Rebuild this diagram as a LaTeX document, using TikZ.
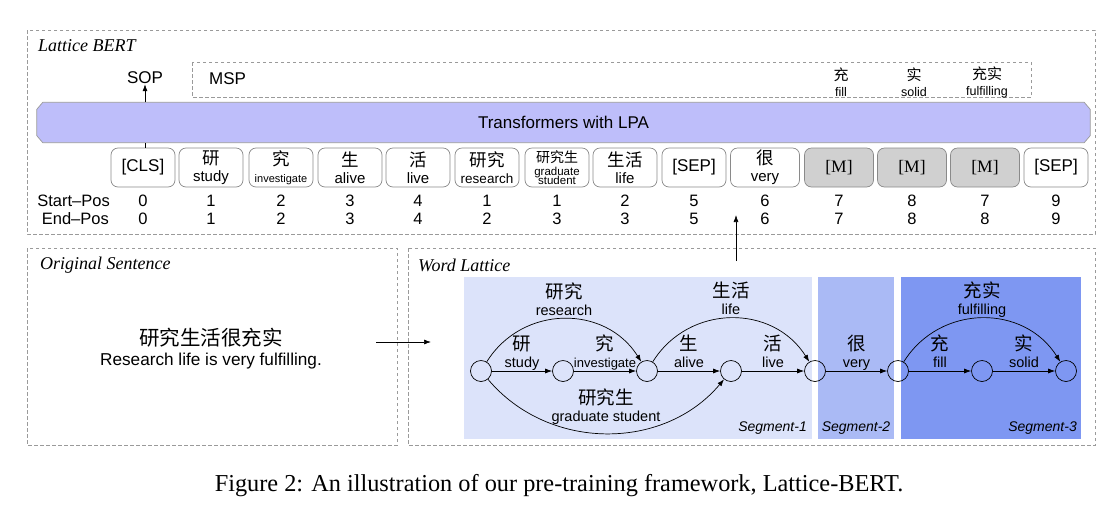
\documentclass[tikz,border=0pt]{standalone}
\usepackage{fontspec}
\setmainfont{Liberation Serif}
\setsansfont{Liberation Sans}
\newfontfamily\cjk{Noto Sans CJK SC}
\usetikzlibrary{arrows.meta}
\definecolor{tfblue}{HTML}{BEBEFA}
\definecolor{segA}{HTML}{DCE3FA}
\definecolor{segB}{HTML}{AABAF5}
\definecolor{segC}{HTML}{7E97F2}
\definecolor{dgray}{HTML}{9A9A9A}
\definecolor{mgray}{HTML}{D0D0D0}
\definecolor{bgray}{HTML}{8A8A8A}
\newcommand{\fs}[1]{\fontsize{#1}{#1}\selectfont}
\newcommand{\nols}{\lineskiplimit=-50pt\relax}
\newcommand{\tw}[3]{{\cjk\fs{17.5}#1}\\{\fs{#3}#2}}
\newcommand{\lw}[2]{{\cjk\fs{18.5}#1}\\{\fs{14.5}#2}}
\newcommand{\mw}[2]{{\cjk\fs{15}#1}\\[-1pt]{\fs{12.5}#2}}
\begin{document}
\begin{tikzpicture}[x=1pt,y=1pt,
  dbox/.style={draw=dgray,line width=0.7pt,dash pattern=on 3.5pt off 2.5pt},
  tok/.style={draw=bgray,line width=0.7pt,rounded corners=7pt,fill=white,
    minimum height=39pt,minimum width=64pt,inner sep=0pt,align=center,
    font=\sffamily\fs{17}\nols},
  wtok/.style={tok,minimum width=69pt},
  mtok/.style={wtok,fill=mgray,font=\rmfamily\fs{17.5}},
  num/.style={font=\sffamily\fs{16.5},inner sep=0pt},
  lnode/.style={circle,draw,line width=0.7pt,minimum size=21pt,inner sep=0pt},
  arr/.style={-{Latex[length=7pt,width=5pt]},line width=0.7pt},
  elab/.style={align=center,inner sep=0pt,text depth=3pt,
    font=\sffamily\fs{17.5}\nols},
  mlab/.style={align=center,inner sep=0pt,font=\sffamily\fs{17}\nols},
  title/.style={font=\rmfamily\itshape\fs{18},anchor=west,inner sep=0pt},
  seglab/.style={font=\sffamily\itshape\fs{14},inner sep=0pt}
]
\useasboundingbox (0,0) rectangle (1120,-515);

% ---------------- Lattice BERT box ----------------
\draw[dbox] (27,-30) rectangle (1095,-234);
\node[title] (lb) at (38,-46) {Lattice BERT};
\draw[dbox] (192,-62) rectangle (1031,-97);
\node[font=\sffamily\fs{17},anchor=west,inner sep=0pt] (msp) at (209,-79) {MSP};
\node[mlab] (m1) at (841,-82) {\mw{充}{fill}};
\node[mlab] (m2) at (914,-82) {\mw{实}{solid}};
\node[mlab] (m3) at (987,-82) {\mw{充实}{fulfilling}};

% transformer
\node[minimum width=1053pt,minimum height=40pt,inner sep=0pt] (tf) at (563.5,-122.5) {};
\fill[tfblue,draw=dgray,line width=0.7pt]
  ([xshift=6pt]tf.north west) -- ([xshift=-6pt]tf.north east)
  -- ([yshift=-7pt]tf.north east) -- ([yshift=7pt]tf.south east)
  -- ([xshift=-6pt]tf.south east) -- ([xshift=6pt]tf.south west)
  -- ([yshift=7pt]tf.south west) -- ([yshift=-7pt]tf.north west) -- cycle;
\node[font=\sffamily\fs{17},inner sep=0pt] (tft) at (tf.center) {Transformers with LPA};

\node[font=\sffamily\fs{17},inner sep=0pt] (sop) at (145,-78) {SOP};

% tokens
\node[tok] (t0) at (143,-167.5) {[CLS]};
\node[tok] (t1) at (211,-167.5) {\tw{研}{study}{15}};
\node[tok] (t2) at (281,-167.5) {\tw{究}{investigate}{11}};
\node[tok] (t3) at (350,-167.5) {\tw{生}{alive}{15}};
\node[tok] (t4) at (418,-167.5) {\tw{活}{live}{15}};
\node[tok] (t5) at (487,-167.5) {\tw{研究}{research}{13.5}};
\node[tok] (t6) at (557,-167.5) {{\cjk\fs{14}研究生}\\[-4pt]{\fs{11.5}graduate}\\[-7.5pt]{\fs{11.5}student}};
\node[tok] (t7) at (625,-167.5) {\tw{生活}{life}{15}};
\node[tok] (t8) at (694,-167.5) {[SEP]};
\node[wtok] (t9) at (765,-167.5) {\tw{很}{very}{15}};
\node[mtok] (t10) at (839,-167.5) {[M]};
\node[mtok] (t11) at (912,-167.5) {[M]};
\node[mtok] (t12) at (985,-167.5) {[M]};
\node[tok] (t13) at (1056,-167.5) {[SEP]};

\draw[line width=0.7pt] (t0.north -| sop) -- (tf.south -| sop);
\draw[arr] (tf.north -| sop) -- (sop.south);

\node[font=\sffamily\fs{16.5},anchor=east,inner sep=0pt] (sp) at (110,-201) {Start–Pos};
\node[font=\sffamily\fs{16.5},anchor=east,inner sep=0pt] (ep) at (109,-219) {End–Pos};
\foreach \i/\s/\e in {0/0/0,1/1/1,2/2/2,3/3/3,4/4/4,5/1/2,6/1/3,7/2/3,8/5/5,9/6/6,10/7/7,11/8/8,12/7/8,13/9/9}{
  \node[num] (s\i) at (t\i |- sp) {\s};
  \node[num] (e\i) at (t\i |- ep) {\e};
}

% ---------------- Original sentence ----------------
\draw[dbox] (27,-248) rectangle (397,-445);
\node[title] (os) at (40,-265) {Original Sentence};
\node[inner sep=0pt,font=\cjk\fs{20.5}] (zh) at (211,-338) {研究生活很充实};
\node[inner sep=0pt,font=\sffamily\fs{17.2}] (en) at (211,-361) {Research life is very fulfilling.};
\coordinate (h0) at (376,-342);
\coordinate (h1) at (431,-342);
\draw[arr] (h0) -- (h1);

% ---------------- Word lattice ----------------
\draw[dbox] (408,-248) rectangle (1095,-445);
\node[title] (wl) at (418,-265) {Word Lattice};
\coordinate (u0) at (736,-261);
\coordinate (u1) at (736,-215);
\draw[arr] (u0) -- (u1);

\fill[segA] (464,-277) rectangle (812,-439);
\fill[segB] (818,-277) rectangle (894,-439);
\fill[segC] (901,-277) rectangle (1081,-439);
\node[seglab,anchor=east] (sg1) at (807,-428) {Segment-1};
\node[seglab] (sg2) at (856,-428) {Segment-2};
\node[seglab,anchor=east] (sg3) at (1077,-428) {Segment-3};

\foreach \i/\x in {0/481,1/563,2/647,3/731,4/815,5/898,6/982,7/1066}{
  \node[lnode] (n\i) at (\x,-371) {};
}
\draw[arr] (n0) -- node[elab,anchor=south]{\lw{研}{study}} (n1);
\draw[arr] (n1) -- node[elab,anchor=south]{\lw{究}{\fs{13}investigate}} (n2);
\draw[arr] (n2) -- node[elab,anchor=south]{\lw{生}{alive}} (n3);
\draw[arr] (n3) -- node[elab,anchor=south]{\lw{活}{live}} (n4);
\draw[arr] (n4) -- node[elab,anchor=south]{\lw{很}{very}} (n5);
\draw[arr] (n5) -- node[elab,anchor=south]{\lw{充}{fill}} (n6);
\draw[arr] (n6) -- node[elab,anchor=south]{\lw{实}{solid}} (n7);
\draw[arr] (n0) to[out=58,in=122,looseness=1.12] node[elab,anchor=south,pos=0.5]{\lw{研究}{research}} (n2);
\draw[arr] (n2) to[out=58,in=122,looseness=1.12] node[elab,anchor=south,pos=0.5]{\lw{生活}{life}} (n4);
\draw[arr] (n5) to[out=58,in=122,looseness=1.12] node[elab,anchor=south,pos=0.5]{\lw{充实}{fulfilling}} (n7);
\draw[arr] (n0) to[out=-50,in=-130,looseness=1.02] node[elab,anchor=south,pos=0.5,yshift=8pt]{\lw{研究生}{graduate student}} (n3);

% caption
\node[font=\rmfamily\fs{24.3},inner sep=0pt] (cap) at (559,-486) {Figure 2: An illustration of our pre-training framework, Lattice-BERT.};
\end{tikzpicture}
\end{document}
